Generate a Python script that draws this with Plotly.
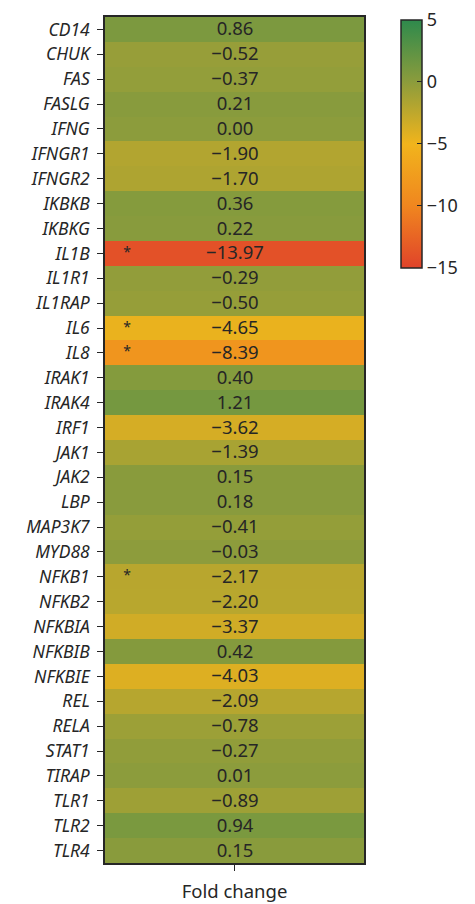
import plotly.graph_objects as go

genes = ["CD14", "CHUK", "FAS", "FASLG", "IFNG", "IFNGR1", "IFNGR2", "IKBKB", "IKBKG",
         "IL1B", "IL1R1", "IL1RAP", "IL6", "IL8", "IRAK1", "IRAK4", "IRF1", "JAK1", "JAK2",
         "LBP", "MAP3K7", "MYD88", "NFKB1", "NFKB2", "NFKBIA", "NFKBIB", "NFKBIE", "REL",
         "RELA", "STAT1", "TIRAP", "TLR1", "TLR2", "TLR4"]
fold_change = [0.86, -0.52, -0.37, 0.21, 0.00, -1.90, -1.70, 0.36, 0.22,
               -13.97, -0.29, -0.50, -4.65, -8.39, 0.40, 1.21, -3.62, -1.39, 0.15,
               0.18, -0.41, -0.03, -2.17, -2.20, -3.37, 0.42, -4.03, -2.09,
               -0.78, -0.27, 0.01, -0.89, 0.94, 0.15]
significant = ["IL1B", "IL6", "IL8", "NFKB1"]
column_label = "Fold change"
cbar_ticks = [5, 0, -5, -10, -15]
zmin, zmax = -15, 5

def fmt(v):
    s = f"{v:.2f}"
    return s.replace("-", "\u2212")

colorscale = [[0.0, "#e0432a"], [0.25, "#f0861f"], [0.5, "#f1b41c"],
              [0.75, "#8c9c3c"], [1.0, "#2e8a4c"]]

font_family = "Noto Sans"
fig = go.Figure()
fig.add_trace(go.Heatmap(
    z=[[v] for v in fold_change],
    x=[0],
    y=genes,
    zmin=zmin, zmax=zmax,
    colorscale=colorscale,
    text=[[fmt(v)] for v in fold_change],
    texttemplate="%{text}",
    textfont=dict(size=18.5, color="#262626", family=font_family),
    xgap=0, ygap=0,
    colorbar=dict(
        x=1.143, xanchor="left", y=0.85, yanchor="middle",
        len=0.293, lenmode="fraction", thickness=21,
        xpad=0, ypad=0,
        outlinewidth=1.5, outlinecolor="#262626",
        tickvals=cbar_ticks, ticktext=[fmt(t).replace(".00", "") for t in cbar_ticks],
        ticklabeloverflow="allow",
        ticks="inside", ticklen=5, tickcolor="#262626",
        tickfont=dict(size=18, color="#262626", family=font_family),
    ),
    hoverinfo="skip",
))
star_genes = [g for g in genes if g in significant]
fig.add_trace(go.Scatter(
    x=[-0.415] * len(star_genes), y=star_genes, mode="text", text=["*"] * len(star_genes),
    textfont=dict(size=14, color="#262626", family=font_family),
    textposition="middle center", showlegend=False, hoverinfo="skip",
))

fig.update_layout(
    width=467, height=896,
    margin=dict(l=97, r=111, t=9, b=41, autoexpand=False),
    paper_bgcolor="white", plot_bgcolor="white",
    font=dict(family=font_family, size=18, color="#262626"),
    showlegend=False,
)
fig.update_xaxes(
    range=[-0.5, 0.5], tickvals=[0], ticktext=[column_label],
    ticks="outside", ticklen=6, tickwidth=1.3, tickcolor="#262626",
    ticklabelstandoff=5, automargin=False,
    showline=True, linecolor="#262626", linewidth=1.5, mirror=True,
    showgrid=False, zeroline=False,
    tickfont=dict(size=18.5, family=font_family),
)
fig.update_yaxes(
    autorange="reversed", automargin=False,
    tickvals=genes, ticktext=[f"<i>{g}</i>" for g in genes],
    ticks="outside", ticklen=6, tickwidth=1.3, tickcolor="#262626",
    ticklabelstandoff=4,
    showline=True, linecolor="#262626", linewidth=1.5, mirror=True,
    showgrid=False, zeroline=False,
    tickfont=dict(size=17.5, family=font_family),
)
fig.write_html("out.html")
